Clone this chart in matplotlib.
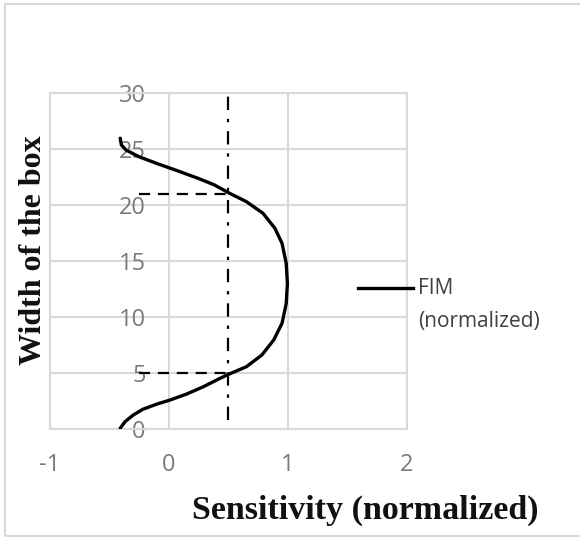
import numpy as np
import matplotlib
matplotlib.use("Agg")
import matplotlib.pyplot as plt
from matplotlib.lines import Line2D
from matplotlib.patches import Rectangle

plt.rcParams['axes.unicode_minus'] = False

# FIM curve (width of box vs normalized sensitivity)
width = [0.06, 0.65, 1.25, 1.76, 2.23, 2.59, 3.13, 3.78, 4.53, 4.88, 5.56,
         6.6, 7.95, 9.44, 11.2, 13.0, 14.8, 16.58, 17.92, 19.26, 20.3,
         21.04, 21.8, 22.4, 23.06, 23.7, 24.3, 24.9, 25.36, 25.96]
fim = [-0.41, -0.37, -0.30, -0.22, -0.10, 0.01, 0.15, 0.29, 0.43, 0.50, 0.65,
       0.78, 0.88, 0.95, 0.985, 0.995, 0.985, 0.95, 0.89, 0.79, 0.65,
       0.51, 0.38, 0.24, 0.07, -0.10, -0.25, -0.36, -0.40, -0.41]

# threshold lines
thr_x = 0.5
thr_y = [5, 21]
thr_x0 = -0.25

xticks = [-1, 0, 1, 2]
yticks = [0, 5, 10, 15, 20, 25, 30]

fig = plt.figure(figsize=(5.8, 5.37), dpi=100)
ax = fig.add_axes([50/580, 1-429/537, 357/580, 336/537])

grid_c = '#d9d9d9'
ax.set_xlim(-1, 2)
ax.set_ylim(0, 30)
ax.set_xticks(xticks)
ax.set_yticks(yticks)
ax.grid(True, color=grid_c, lw=1.5)
for s in ax.spines.values():
    s.set_color(grid_c)
    s.set_linewidth(1.5)
ax.set_axisbelow(True)

tfam = ['Open Sans', 'DejaVu Sans']
ax.tick_params(axis='both', length=0, colors='#7a7a7a')
ax.tick_params(axis='y', pad=-69)
ax.tick_params(axis='x', pad=17)
for lab in ax.get_xticklabels() + ax.get_yticklabels():
    lab.set_fontfamily(tfam)
    lab.set_fontsize(17)

ax.plot([thr_x, thr_x], [0.8, 30], color='black', lw=1.6, dashes=(6, 4, 1.5, 4))
for yy in thr_y:
    ax.plot([thr_x0, thr_x], [yy, yy], color='black', lw=1.6, dashes=(5, 3.5))

ax.plot(fim, width, color='black', lw=2.4, solid_capstyle='round',
        solid_joinstyle='round', zorder=5)

ax.set_xlabel('Sensitivity (normalized)', family='Liberation Serif', weight='bold',
              size=24.5, color='#111111')
ax.xaxis.set_label_coords((365-50)/357, -(510-429)/336)
ax.xaxis.label.set_va('center')
ax.set_ylabel('Width of the box', family='Liberation Serif', weight='bold',
              size=23, color='#111111')
ax.yaxis.set_label_coords(-(50-34)/357, (429-250)/336)
ax.yaxis.label.set_va('center')

# legend
fig.add_artist(Line2D([358/580, 413/580], [1-288/537, 1-288/537], color='black', lw=2.4))
fig.text(418/580, 1-288/537, 'FIM', family=tfam, size=15,
         color='#404040', va='center')
fig.text(418/580, 1-322/537, '(normalized)', family=tfam, size=15,
         color='#404040', va='center')

fig.add_artist(Rectangle((5/580, 1/537), 580/580, 532/537, transform=fig.transFigure,
                         fill=False, edgecolor=grid_c, lw=1.5))

fig.savefig('out.png', dpi=100)
